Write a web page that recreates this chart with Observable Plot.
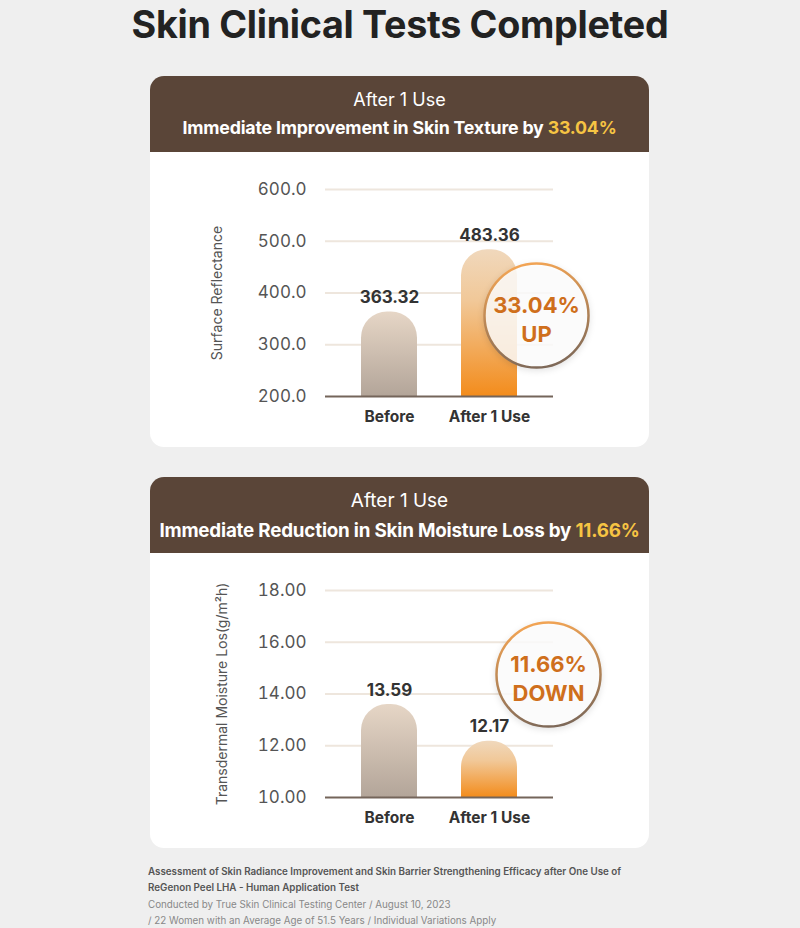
<!DOCTYPE html>
<html><head><meta charset="utf-8">
<script src="https://cdn.jsdelivr.net/npm/d3@7"></script>
<script src="https://cdn.jsdelivr.net/npm/@observablehq/plot@0.6"></script>
<style>
html,body{margin:0;padding:0}
body{background:#efefef;font-family:Inter,"Noto Sans",sans-serif;width:800px;height:928px;overflow:hidden;position:relative}
h1{position:absolute;top:0;left:0;width:800px;text-align:center;margin:0;font-weight:700;font-size:37.7px;letter-spacing:-0.3px;line-height:48px;color:#222}
.card{position:absolute;left:150px;width:499px}
.head{background:#5a4538;border-radius:14px 14px 0 0;height:76px;color:#fff;text-align:center;position:relative}
.head .l1{position:absolute;left:0;right:0;top:13px;font-size:18px;font-weight:400;line-height:22px}
.head .l2{position:absolute;left:0;right:0;top:41px;font-size:17.8px;font-weight:700;line-height:22px;letter-spacing:-0.2px}
.card.b .head .l1{font-size:19px;top:13px}
.card.b .head .l2{font-size:18.8px;top:43px}
.head .hl{color:#f6c443}
.body{background:#fff;border-radius:0 0 14px 14px;height:295px}
.body svg{display:block}
.note{position:absolute;left:148px;top:864px;font-size:9.8px;line-height:16.3px;color:#888}
.note b{color:#555;font-weight:600}
[aria-label=dot] circle{filter:drop-shadow(0 2px 3px rgba(0,0,0,0.12))}
</style>
</head><body>
<h1 id="title"></h1>
<div class="card" style="top:76px"><div class="head"><div class="l1" id="h1a"></div><div class="l2" id="h1b"></div></div><div class="body" id="c1"></div></div>
<div class="card b" style="top:477px"><div class="head"><div class="l1" id="h2a"></div><div class="l2" id="h2b"></div></div><div class="body" id="c2"></div></div>
<div class="note" id="note"></div>
<script>
const title = "Skin Clinical Tests Completed";
const categories = ["Before", "After 1 Use"];

const textureHeader = "After 1 Use";
const textureHeadline = "Immediate Improvement in Skin Texture by ";
const textureChange = "33.04%";
const textureValues = [363.32, 483.36];
const textureTicks = [200, 300, 400, 500, 600];
const textureLabel = "Surface Reflectance";
const textureCallout = "33.04%\nUP";

const moistureHeader = "After 1 Use";
const moistureHeadline = "Immediate Reduction in Skin Moisture Loss by ";
const moistureChange = "11.66%";
const moistureValues = [13.59, 12.17];
const moistureTicks = [10, 12, 14, 16, 18];
const moistureLabel = "Transdermal Moisture Los(g/m²h)";
const moistureCallout = "11.66%\nDOWN";

const noteBold = ["Assessment of Skin Radiance Improvement and Skin Barrier Strengthening Efficacy after One Use of", "ReGenon Peel LHA - Human Application Test"];
const noteLines = ["Conducted by True Skin Clinical Testing Center / August 10, 2023", "/ 22 Women with an Average Age of 51.5 Years / Individual Variations Apply"];

document.getElementById("title").textContent = title;
document.getElementById("h1a").textContent = textureHeader;
document.getElementById("h1b").innerHTML = textureHeadline + '<span class="hl">' + textureChange + '</span>';
document.getElementById("h2a").textContent = moistureHeader;
document.getElementById("h2b").innerHTML = moistureHeadline + '<span class="hl">' + moistureChange + '</span>';
document.getElementById("note").innerHTML = noteBold.map(s => "<b>" + s + "</b>").join("<br>") + "<br>" + noteLines.join("<br>");

function defs(id) {
  return () => {
    const d = d3.create("svg:defs");
    const g1 = d.append("linearGradient").attr("id", "gb" + id).attr("x1", 0).attr("y1", 0).attr("x2", 0).attr("y2", 1);
    g1.append("stop").attr("offset", 0).attr("stop-color", "#e6d6c6");
    g1.append("stop").attr("offset", 1).attr("stop-color", "#b3a599");
    const g2 = d.append("linearGradient").attr("id", "ga" + id).attr("x1", 0).attr("y1", 0).attr("x2", 0).attr("y2", 1);
    g2.append("stop").attr("offset", 0).attr("stop-color", "#f0d8bc");
    g2.append("stop").attr("offset", 0.35).attr("stop-color", "#f1c898");
    g2.append("stop").attr("offset", 1).attr("stop-color", "#f38c1c");
    const g3 = d.append("linearGradient").attr("id", "ring" + id).attr("x1", 0.4).attr("y1", 0).attr("x2", 0.6).attr("y2", 1);
    g3.append("stop").attr("offset", 0).attr("stop-color", "#f2a454");
    g3.append("stop").attr("offset", 1).attr("stop-color", "#7d6858");
    return d.node();
  };
}

function chart({id, values, ticks, fmt, yLabel, labelDx, callout, cdx, cdy}) {
  const data = categories.map((c, i) => ({cat: c, value: values[i], fill: i === 0 ? `url(#gb${id})` : `url(#ga${id})`}));
  const base = ticks[0];
  const valFmt = d3.format(".2f");
  return Plot.plot({
    width: 499, height: 295,
    marginLeft: 175, marginRight: 96, marginTop: 37, marginBottom: 51,
    style: {background: "transparent", color: "#555", fontFamily: "Inter, 'Noto Sans', sans-serif", overflow: "visible"},
    x: {domain: categories, paddingInner: 0.44, paddingOuter: 0.35, axis: null},
    y: {domain: [ticks[0], ticks[ticks.length - 1]], axis: null},
    marks: [
      defs(id),
      Plot.ruleY(ticks.slice(1), {stroke: "#eee6dd", strokeWidth: 2}),
      Plot.barY(data, {x: "cat", y1: base, y2: "value", fill: "fill", ry1: 26}),
      Plot.ruleY([base], {stroke: "#74655a", strokeWidth: 2}),
      Plot.axisY({ticks, tickFormat: fmt, tickSize: 0, tickPadding: 19, fontSize: 17, label: null}),
      Plot.axisX({tickSize: 0, tickPadding: 14, fontSize: 15.5, fontWeight: 700, fill: "#333", label: null}),
      Plot.text(data, {x: "cat", y: "value", text: d => valFmt(d.value), lineAnchor: "bottom", dy: -9, fontSize: 17, fontWeight: 700, fill: "#333"}),
      Plot.text([yLabel], {frameAnchor: "left", textAnchor: "middle", lineAnchor: "middle", dx: labelDx, rotate: -90, fontSize: 14, fill: "#555"}),
      Plot.dot([callout], {frameAnchor: "top-right", dx: cdx, dy: cdy, r: 52, fill: "#fff", fillOpacity: 0.82, stroke: `url(#ring${id})`, strokeWidth: 2.5}),
      Plot.text([callout], {frameAnchor: "top-right", textAnchor: "middle", lineAnchor: "middle", dx: cdx, dy: cdy + 3, lineHeight: 1.3, fontSize: 22, fontWeight: 700, fill: "#cf6f1c", letterSpacing: "-0.5px"})
    ]
  });
}

document.getElementById("c1").append(chart({
  id: "t", values: textureValues, ticks: textureTicks, fmt: d3.format(".1f"),
  yLabel: textureLabel, labelDx: -108, callout: textureCallout, cdx: -17, cdy: 126
}));
document.getElementById("c2").append(chart({
  id: "m", values: moistureValues, ticks: moistureTicks, fmt: d3.format(".2f"),
  yLabel: moistureLabel, labelDx: -103, callout: moistureCallout, cdx: -5, cdy: 84
}));
</script>
</body></html>
